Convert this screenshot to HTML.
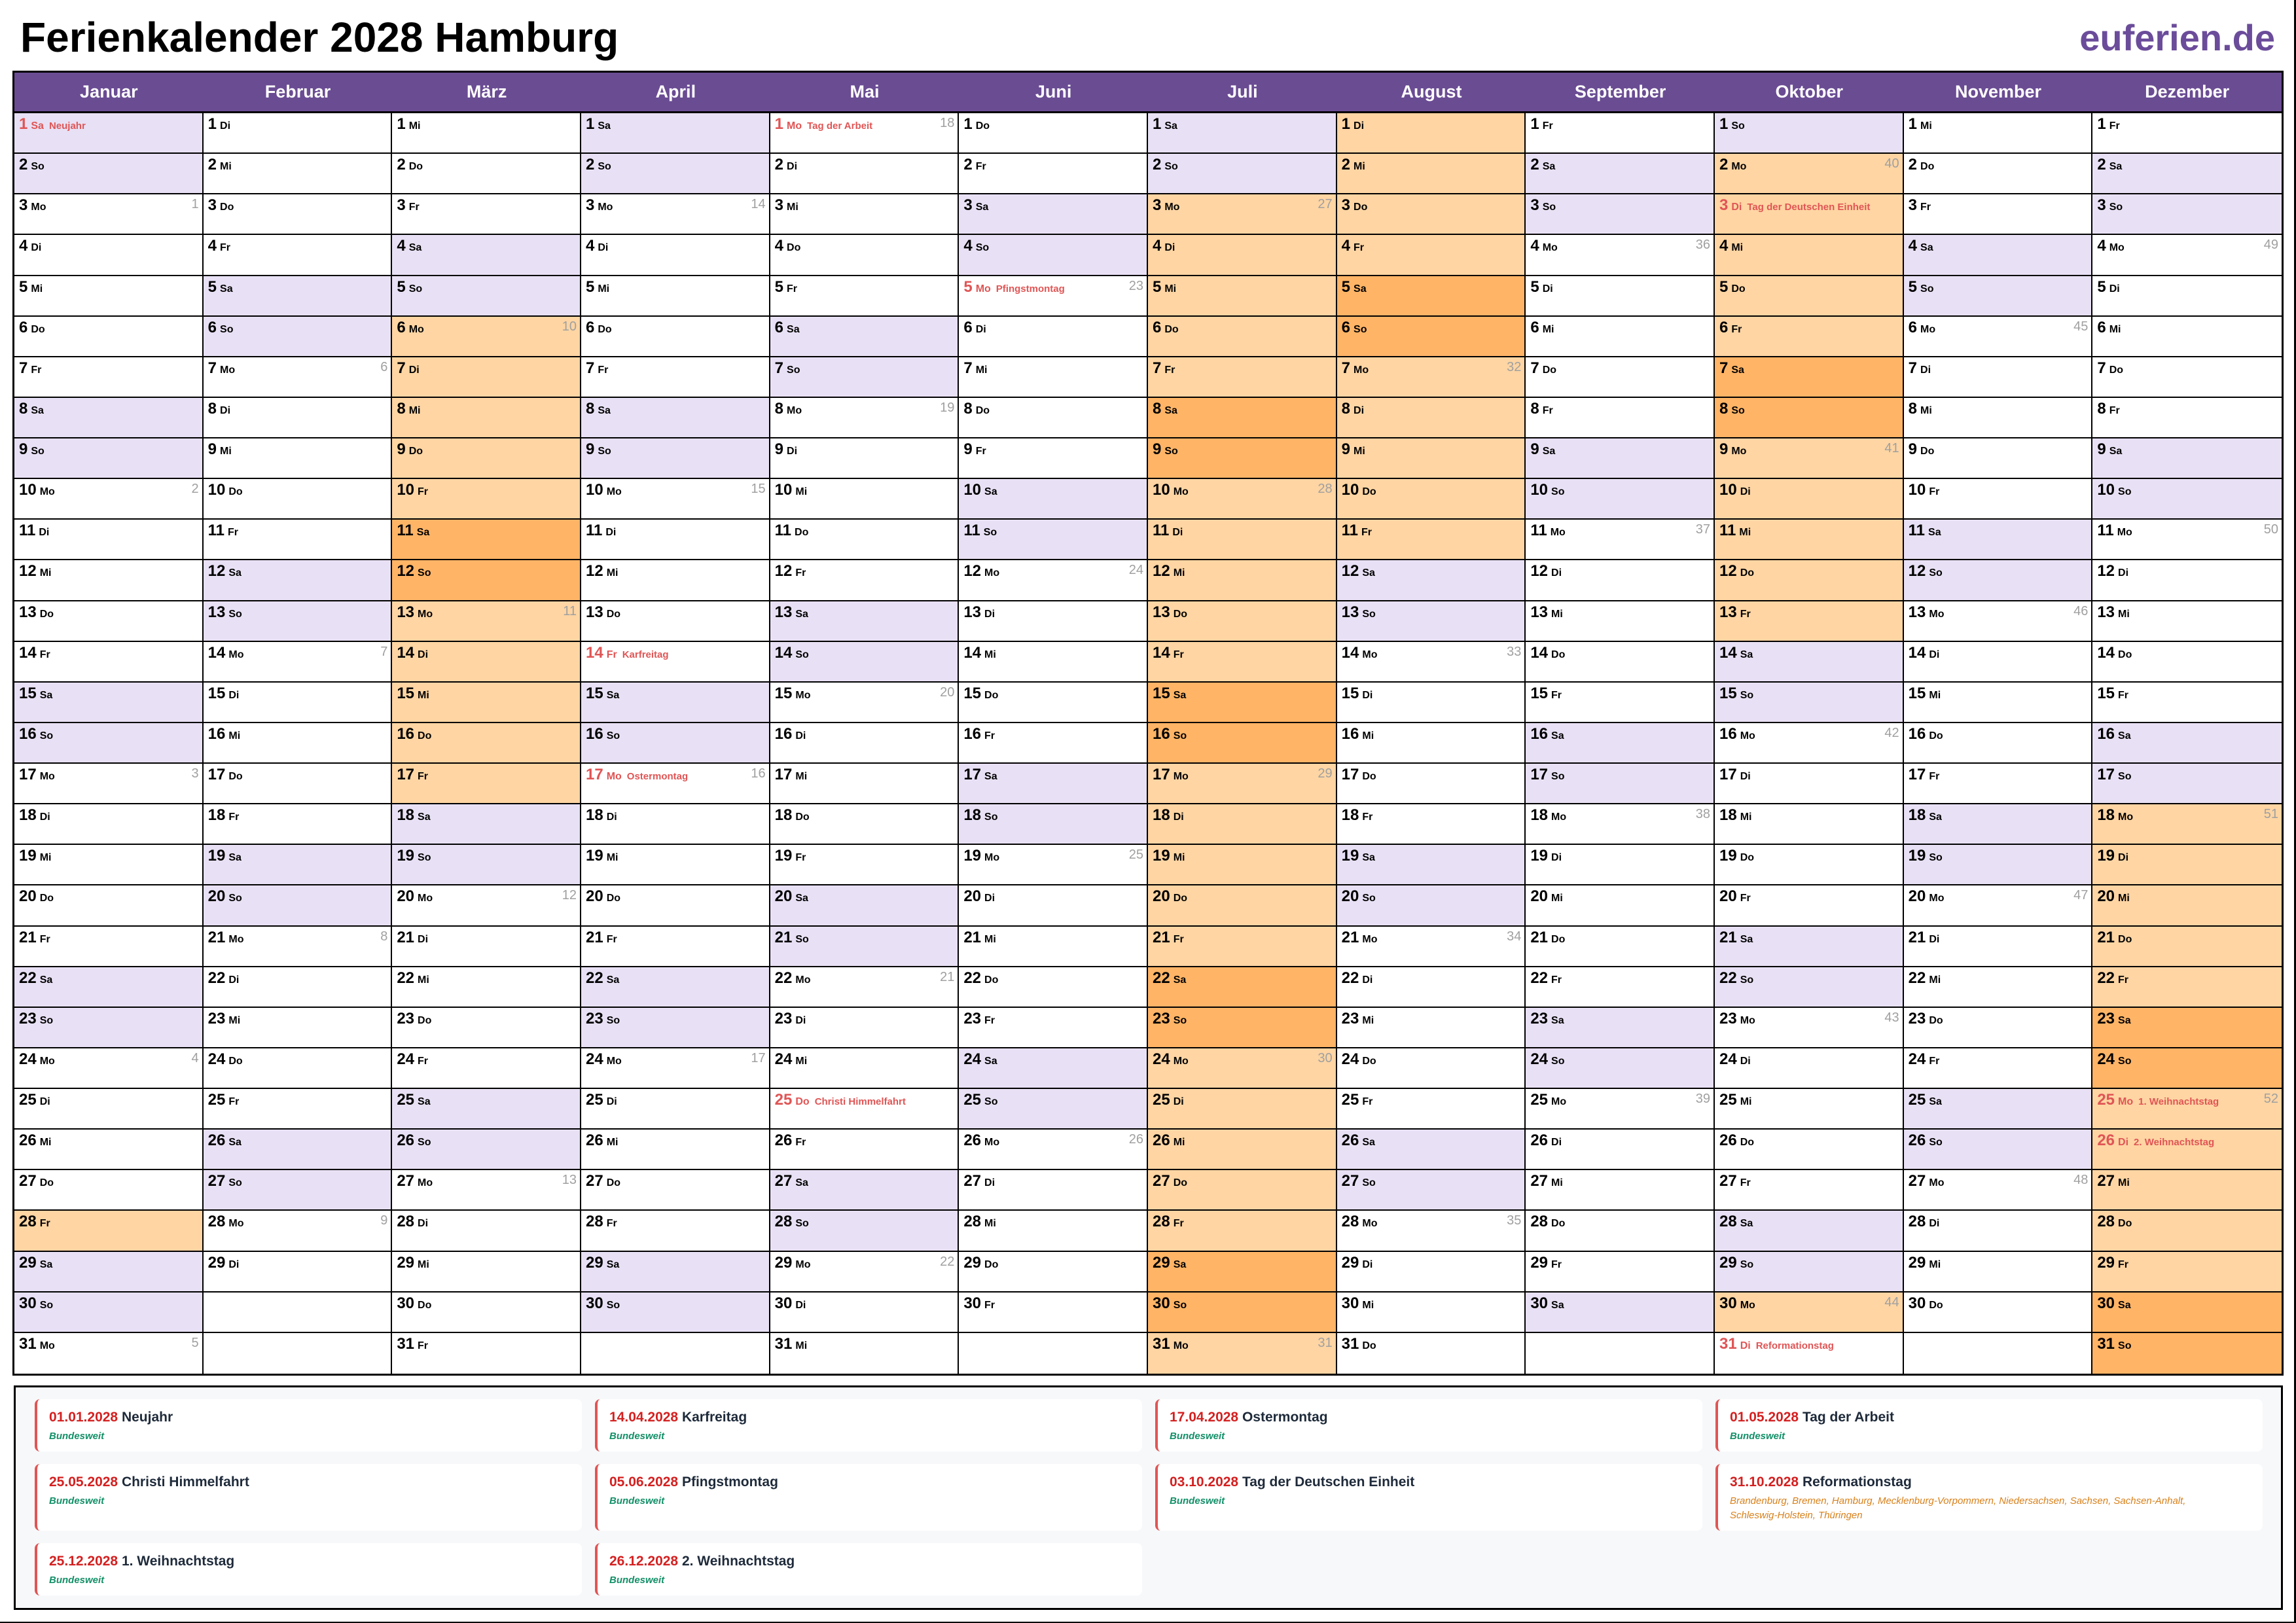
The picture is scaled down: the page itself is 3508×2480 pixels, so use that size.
<!DOCTYPE html>
<html><head><meta charset="utf-8"><style>
*{box-sizing:border-box;margin:0;padding:0}
body{width:3508px;height:2480px;background:#fff;position:relative;overflow:hidden;font-family:"Liberation Sans",Arial,sans-serif}
#t{position:absolute;left:31px;top:25px;font-size:64px;line-height:64px;font-weight:bold;color:#000}
#eu{position:absolute;right:32px;top:30px;font-size:56px;line-height:56px;font-weight:bold;color:#6b4c9a}
#pb{position:absolute;right:0;top:0;width:3px;height:2480px;background:#000}
#bb{position:absolute;left:0;bottom:0;width:3508px;height:2px;background:#000}
#cal{position:absolute;left:19px;top:108px;width:3470px;height:1994px;border:3px solid #000}
#hd{display:grid;grid-template-columns:repeat(12,1fr);height:62px;background:#6a4c93;border-bottom:3px solid #000}
#hd div{color:#fff;font-weight:bold;font-size:27px;text-align:center;line-height:59px}
#g{display:grid;grid-template-columns:repeat(12,1fr);grid-template-rows:repeat(31,1fr);grid-auto-flow:column;height:1926px}
#g p{position:relative;border-right:2px solid #000;border-bottom:2px solid #000;padding:4px 0 0 7px;font-weight:bold;font-size:16px;line-height:26px;white-space:nowrap;overflow:hidden}
#g p:nth-child(31n){border-bottom:none}
#g p:nth-child(n+342){border-right:none}
#g b{font-size:24px;margin-right:5px}
#g i{position:absolute;right:5px;top:2px;font-style:normal;font-weight:normal;font-size:20px;color:#a0a0a0}
#g s{text-decoration:none;font-size:15px;margin-left:8px}
.e{background:#e8e0f4}.h{background:#fed5a3}.d{background:#ffb466}
#g .r{color:#e05555}
#lg{position:absolute;left:21px;top:2117px;width:3467px;height:343px;border:3px solid #000;background:#f7f8fa}
.k{position:absolute;width:836px;background:#fff;border-left:4px solid #e05555;border-radius:8px;padding:16px 0 0 18px}
.k .a{font-size:21px;line-height:24px;color:#1e2a3a;font-weight:bold}
.k .a span{color:#d42020}
.k .b{font-size:15px;line-height:22px;color:#139068;font-style:italic;font-weight:bold;margin-top:6px}
.k .o{color:#d8801a;font-weight:normal}
</style></head><body>
<div id="t">Ferienkalender 2028 Hamburg</div>
<div id="eu">euferien.de</div>
<div id="pb"></div><div id="bb"></div>
<div id="cal">
<div id="hd"><div>Januar</div><div>Februar</div><div>März</div><div>April</div><div>Mai</div><div>Juni</div><div>Juli</div><div>August</div><div>September</div><div>Oktober</div><div>November</div><div>Dezember</div></div>
<div id="g">
<p class="e r"><b>1</b>Sa<s>Neujahr</s></p><p class=e><b>2</b>So</p><p><b>3</b>Mo<i>1</i></p><p><b>4</b>Di</p><p><b>5</b>Mi</p><p><b>6</b>Do</p><p><b>7</b>Fr</p><p class=e><b>8</b>Sa</p><p class=e><b>9</b>So</p><p><b>10</b>Mo<i>2</i></p><p><b>11</b>Di</p><p><b>12</b>Mi</p><p><b>13</b>Do</p><p><b>14</b>Fr</p><p class=e><b>15</b>Sa</p><p class=e><b>16</b>So</p><p><b>17</b>Mo<i>3</i></p><p><b>18</b>Di</p><p><b>19</b>Mi</p><p><b>20</b>Do</p><p><b>21</b>Fr</p><p class=e><b>22</b>Sa</p><p class=e><b>23</b>So</p><p><b>24</b>Mo<i>4</i></p><p><b>25</b>Di</p><p><b>26</b>Mi</p><p><b>27</b>Do</p><p class=h><b>28</b>Fr</p><p class=e><b>29</b>Sa</p><p class=e><b>30</b>So</p><p><b>31</b>Mo<i>5</i></p>
<p><b>1</b>Di</p><p><b>2</b>Mi</p><p><b>3</b>Do</p><p><b>4</b>Fr</p><p class=e><b>5</b>Sa</p><p class=e><b>6</b>So</p><p><b>7</b>Mo<i>6</i></p><p><b>8</b>Di</p><p><b>9</b>Mi</p><p><b>10</b>Do</p><p><b>11</b>Fr</p><p class=e><b>12</b>Sa</p><p class=e><b>13</b>So</p><p><b>14</b>Mo<i>7</i></p><p><b>15</b>Di</p><p><b>16</b>Mi</p><p><b>17</b>Do</p><p><b>18</b>Fr</p><p class=e><b>19</b>Sa</p><p class=e><b>20</b>So</p><p><b>21</b>Mo<i>8</i></p><p><b>22</b>Di</p><p><b>23</b>Mi</p><p><b>24</b>Do</p><p><b>25</b>Fr</p><p class=e><b>26</b>Sa</p><p class=e><b>27</b>So</p><p><b>28</b>Mo<i>9</i></p><p><b>29</b>Di</p><p></p><p></p>
<p><b>1</b>Mi</p><p><b>2</b>Do</p><p><b>3</b>Fr</p><p class=e><b>4</b>Sa</p><p class=e><b>5</b>So</p><p class=h><b>6</b>Mo<i>10</i></p><p class=h><b>7</b>Di</p><p class=h><b>8</b>Mi</p><p class=h><b>9</b>Do</p><p class=h><b>10</b>Fr</p><p class=d><b>11</b>Sa</p><p class=d><b>12</b>So</p><p class=h><b>13</b>Mo<i>11</i></p><p class=h><b>14</b>Di</p><p class=h><b>15</b>Mi</p><p class=h><b>16</b>Do</p><p class=h><b>17</b>Fr</p><p class=e><b>18</b>Sa</p><p class=e><b>19</b>So</p><p><b>20</b>Mo<i>12</i></p><p><b>21</b>Di</p><p><b>22</b>Mi</p><p><b>23</b>Do</p><p><b>24</b>Fr</p><p class=e><b>25</b>Sa</p><p class=e><b>26</b>So</p><p><b>27</b>Mo<i>13</i></p><p><b>28</b>Di</p><p><b>29</b>Mi</p><p><b>30</b>Do</p><p><b>31</b>Fr</p>
<p class=e><b>1</b>Sa</p><p class=e><b>2</b>So</p><p><b>3</b>Mo<i>14</i></p><p><b>4</b>Di</p><p><b>5</b>Mi</p><p><b>6</b>Do</p><p><b>7</b>Fr</p><p class=e><b>8</b>Sa</p><p class=e><b>9</b>So</p><p><b>10</b>Mo<i>15</i></p><p><b>11</b>Di</p><p><b>12</b>Mi</p><p><b>13</b>Do</p><p class=r><b>14</b>Fr<s>Karfreitag</s></p><p class=e><b>15</b>Sa</p><p class=e><b>16</b>So</p><p class=r><b>17</b>Mo<s>Ostermontag</s><i>16</i></p><p><b>18</b>Di</p><p><b>19</b>Mi</p><p><b>20</b>Do</p><p><b>21</b>Fr</p><p class=e><b>22</b>Sa</p><p class=e><b>23</b>So</p><p><b>24</b>Mo<i>17</i></p><p><b>25</b>Di</p><p><b>26</b>Mi</p><p><b>27</b>Do</p><p><b>28</b>Fr</p><p class=e><b>29</b>Sa</p><p class=e><b>30</b>So</p><p></p>
<p class=r><b>1</b>Mo<s>Tag der Arbeit</s><i>18</i></p><p><b>2</b>Di</p><p><b>3</b>Mi</p><p><b>4</b>Do</p><p><b>5</b>Fr</p><p class=e><b>6</b>Sa</p><p class=e><b>7</b>So</p><p><b>8</b>Mo<i>19</i></p><p><b>9</b>Di</p><p><b>10</b>Mi</p><p><b>11</b>Do</p><p><b>12</b>Fr</p><p class=e><b>13</b>Sa</p><p class=e><b>14</b>So</p><p><b>15</b>Mo<i>20</i></p><p><b>16</b>Di</p><p><b>17</b>Mi</p><p><b>18</b>Do</p><p><b>19</b>Fr</p><p class=e><b>20</b>Sa</p><p class=e><b>21</b>So</p><p><b>22</b>Mo<i>21</i></p><p><b>23</b>Di</p><p><b>24</b>Mi</p><p class=r><b>25</b>Do<s>Christi Himmelfahrt</s></p><p><b>26</b>Fr</p><p class=e><b>27</b>Sa</p><p class=e><b>28</b>So</p><p><b>29</b>Mo<i>22</i></p><p><b>30</b>Di</p><p><b>31</b>Mi</p>
<p><b>1</b>Do</p><p><b>2</b>Fr</p><p class=e><b>3</b>Sa</p><p class=e><b>4</b>So</p><p class=r><b>5</b>Mo<s>Pfingstmontag</s><i>23</i></p><p><b>6</b>Di</p><p><b>7</b>Mi</p><p><b>8</b>Do</p><p><b>9</b>Fr</p><p class=e><b>10</b>Sa</p><p class=e><b>11</b>So</p><p><b>12</b>Mo<i>24</i></p><p><b>13</b>Di</p><p><b>14</b>Mi</p><p><b>15</b>Do</p><p><b>16</b>Fr</p><p class=e><b>17</b>Sa</p><p class=e><b>18</b>So</p><p><b>19</b>Mo<i>25</i></p><p><b>20</b>Di</p><p><b>21</b>Mi</p><p><b>22</b>Do</p><p><b>23</b>Fr</p><p class=e><b>24</b>Sa</p><p class=e><b>25</b>So</p><p><b>26</b>Mo<i>26</i></p><p><b>27</b>Di</p><p><b>28</b>Mi</p><p><b>29</b>Do</p><p><b>30</b>Fr</p><p></p>
<p class=e><b>1</b>Sa</p><p class=e><b>2</b>So</p><p class=h><b>3</b>Mo<i>27</i></p><p class=h><b>4</b>Di</p><p class=h><b>5</b>Mi</p><p class=h><b>6</b>Do</p><p class=h><b>7</b>Fr</p><p class=d><b>8</b>Sa</p><p class=d><b>9</b>So</p><p class=h><b>10</b>Mo<i>28</i></p><p class=h><b>11</b>Di</p><p class=h><b>12</b>Mi</p><p class=h><b>13</b>Do</p><p class=h><b>14</b>Fr</p><p class=d><b>15</b>Sa</p><p class=d><b>16</b>So</p><p class=h><b>17</b>Mo<i>29</i></p><p class=h><b>18</b>Di</p><p class=h><b>19</b>Mi</p><p class=h><b>20</b>Do</p><p class=h><b>21</b>Fr</p><p class=d><b>22</b>Sa</p><p class=d><b>23</b>So</p><p class=h><b>24</b>Mo<i>30</i></p><p class=h><b>25</b>Di</p><p class=h><b>26</b>Mi</p><p class=h><b>27</b>Do</p><p class=h><b>28</b>Fr</p><p class=d><b>29</b>Sa</p><p class=d><b>30</b>So</p><p class=h><b>31</b>Mo<i>31</i></p>
<p class=h><b>1</b>Di</p><p class=h><b>2</b>Mi</p><p class=h><b>3</b>Do</p><p class=h><b>4</b>Fr</p><p class=d><b>5</b>Sa</p><p class=d><b>6</b>So</p><p class=h><b>7</b>Mo<i>32</i></p><p class=h><b>8</b>Di</p><p class=h><b>9</b>Mi</p><p class=h><b>10</b>Do</p><p class=h><b>11</b>Fr</p><p class=e><b>12</b>Sa</p><p class=e><b>13</b>So</p><p><b>14</b>Mo<i>33</i></p><p><b>15</b>Di</p><p><b>16</b>Mi</p><p><b>17</b>Do</p><p><b>18</b>Fr</p><p class=e><b>19</b>Sa</p><p class=e><b>20</b>So</p><p><b>21</b>Mo<i>34</i></p><p><b>22</b>Di</p><p><b>23</b>Mi</p><p><b>24</b>Do</p><p><b>25</b>Fr</p><p class=e><b>26</b>Sa</p><p class=e><b>27</b>So</p><p><b>28</b>Mo<i>35</i></p><p><b>29</b>Di</p><p><b>30</b>Mi</p><p><b>31</b>Do</p>
<p><b>1</b>Fr</p><p class=e><b>2</b>Sa</p><p class=e><b>3</b>So</p><p><b>4</b>Mo<i>36</i></p><p><b>5</b>Di</p><p><b>6</b>Mi</p><p><b>7</b>Do</p><p><b>8</b>Fr</p><p class=e><b>9</b>Sa</p><p class=e><b>10</b>So</p><p><b>11</b>Mo<i>37</i></p><p><b>12</b>Di</p><p><b>13</b>Mi</p><p><b>14</b>Do</p><p><b>15</b>Fr</p><p class=e><b>16</b>Sa</p><p class=e><b>17</b>So</p><p><b>18</b>Mo<i>38</i></p><p><b>19</b>Di</p><p><b>20</b>Mi</p><p><b>21</b>Do</p><p><b>22</b>Fr</p><p class=e><b>23</b>Sa</p><p class=e><b>24</b>So</p><p><b>25</b>Mo<i>39</i></p><p><b>26</b>Di</p><p><b>27</b>Mi</p><p><b>28</b>Do</p><p><b>29</b>Fr</p><p class=e><b>30</b>Sa</p><p></p>
<p class=e><b>1</b>So</p><p class=h><b>2</b>Mo<i>40</i></p><p class="h r"><b>3</b>Di<s>Tag der Deutschen Einheit</s></p><p class=h><b>4</b>Mi</p><p class=h><b>5</b>Do</p><p class=h><b>6</b>Fr</p><p class=d><b>7</b>Sa</p><p class=d><b>8</b>So</p><p class=h><b>9</b>Mo<i>41</i></p><p class=h><b>10</b>Di</p><p class=h><b>11</b>Mi</p><p class=h><b>12</b>Do</p><p class=h><b>13</b>Fr</p><p class=e><b>14</b>Sa</p><p class=e><b>15</b>So</p><p><b>16</b>Mo<i>42</i></p><p><b>17</b>Di</p><p><b>18</b>Mi</p><p><b>19</b>Do</p><p><b>20</b>Fr</p><p class=e><b>21</b>Sa</p><p class=e><b>22</b>So</p><p><b>23</b>Mo<i>43</i></p><p><b>24</b>Di</p><p><b>25</b>Mi</p><p><b>26</b>Do</p><p><b>27</b>Fr</p><p class=e><b>28</b>Sa</p><p class=e><b>29</b>So</p><p class=h><b>30</b>Mo<i>44</i></p><p class=r><b>31</b>Di<s>Reformationstag</s></p>
<p><b>1</b>Mi</p><p><b>2</b>Do</p><p><b>3</b>Fr</p><p class=e><b>4</b>Sa</p><p class=e><b>5</b>So</p><p><b>6</b>Mo<i>45</i></p><p><b>7</b>Di</p><p><b>8</b>Mi</p><p><b>9</b>Do</p><p><b>10</b>Fr</p><p class=e><b>11</b>Sa</p><p class=e><b>12</b>So</p><p><b>13</b>Mo<i>46</i></p><p><b>14</b>Di</p><p><b>15</b>Mi</p><p><b>16</b>Do</p><p><b>17</b>Fr</p><p class=e><b>18</b>Sa</p><p class=e><b>19</b>So</p><p><b>20</b>Mo<i>47</i></p><p><b>21</b>Di</p><p><b>22</b>Mi</p><p><b>23</b>Do</p><p><b>24</b>Fr</p><p class=e><b>25</b>Sa</p><p class=e><b>26</b>So</p><p><b>27</b>Mo<i>48</i></p><p><b>28</b>Di</p><p><b>29</b>Mi</p><p><b>30</b>Do</p><p></p>
<p><b>1</b>Fr</p><p class=e><b>2</b>Sa</p><p class=e><b>3</b>So</p><p><b>4</b>Mo<i>49</i></p><p><b>5</b>Di</p><p><b>6</b>Mi</p><p><b>7</b>Do</p><p><b>8</b>Fr</p><p class=e><b>9</b>Sa</p><p class=e><b>10</b>So</p><p><b>11</b>Mo<i>50</i></p><p><b>12</b>Di</p><p><b>13</b>Mi</p><p><b>14</b>Do</p><p><b>15</b>Fr</p><p class=e><b>16</b>Sa</p><p class=e><b>17</b>So</p><p class=h><b>18</b>Mo<i>51</i></p><p class=h><b>19</b>Di</p><p class=h><b>20</b>Mi</p><p class=h><b>21</b>Do</p><p class=h><b>22</b>Fr</p><p class=d><b>23</b>Sa</p><p class=d><b>24</b>So</p><p class="h r"><b>25</b>Mo<s>1. Weihnachtstag</s><i>52</i></p><p class="h r"><b>26</b>Di<s>2. Weihnachtstag</s></p><p class=h><b>27</b>Mi</p><p class=h><b>28</b>Do</p><p class=h><b>29</b>Fr</p><p class=d><b>30</b>Sa</p><p class=d><b>31</b>So</p>
</div></div>
<div id="lg">
<div class="k" style="left:29px;top:18px;height:80px"><div class="a"><span>01.01.2028</span> Neujahr</div><div class="b">Bundesweit</div></div>
<div class="k" style="left:885px;top:18px;height:80px"><div class="a"><span>14.04.2028</span> Karfreitag</div><div class="b">Bundesweit</div></div>
<div class="k" style="left:1741px;top:18px;height:80px"><div class="a"><span>17.04.2028</span> Ostermontag</div><div class="b">Bundesweit</div></div>
<div class="k" style="left:2597px;top:18px;height:80px"><div class="a"><span>01.05.2028</span> Tag der Arbeit</div><div class="b">Bundesweit</div></div>
<div class="k" style="left:29px;top:117px;height:102px"><div class="a"><span>25.05.2028</span> Christi Himmelfahrt</div><div class="b">Bundesweit</div></div>
<div class="k" style="left:885px;top:117px;height:102px"><div class="a"><span>05.06.2028</span> Pfingstmontag</div><div class="b">Bundesweit</div></div>
<div class="k" style="left:1741px;top:117px;height:102px"><div class="a"><span>03.10.2028</span> Tag der Deutschen Einheit</div><div class="b">Bundesweit</div></div>
<div class="k" style="left:2597px;top:117px;height:102px"><div class="a"><span>31.10.2028</span> Reformationstag</div><div class="b o">Brandenburg, Bremen, Hamburg, Mecklenburg-Vorpommern, Niedersachsen, Sachsen, Sachsen-Anhalt,<br>Schleswig-Holstein, Thüringen</div></div>
<div class="k" style="left:29px;top:238px;height:80px"><div class="a"><span>25.12.2028</span> 1. Weihnachtstag</div><div class="b">Bundesweit</div></div>
<div class="k" style="left:885px;top:238px;height:80px"><div class="a"><span>26.12.2028</span> 2. Weihnachtstag</div><div class="b">Bundesweit</div></div>
</div>
</body></html>
